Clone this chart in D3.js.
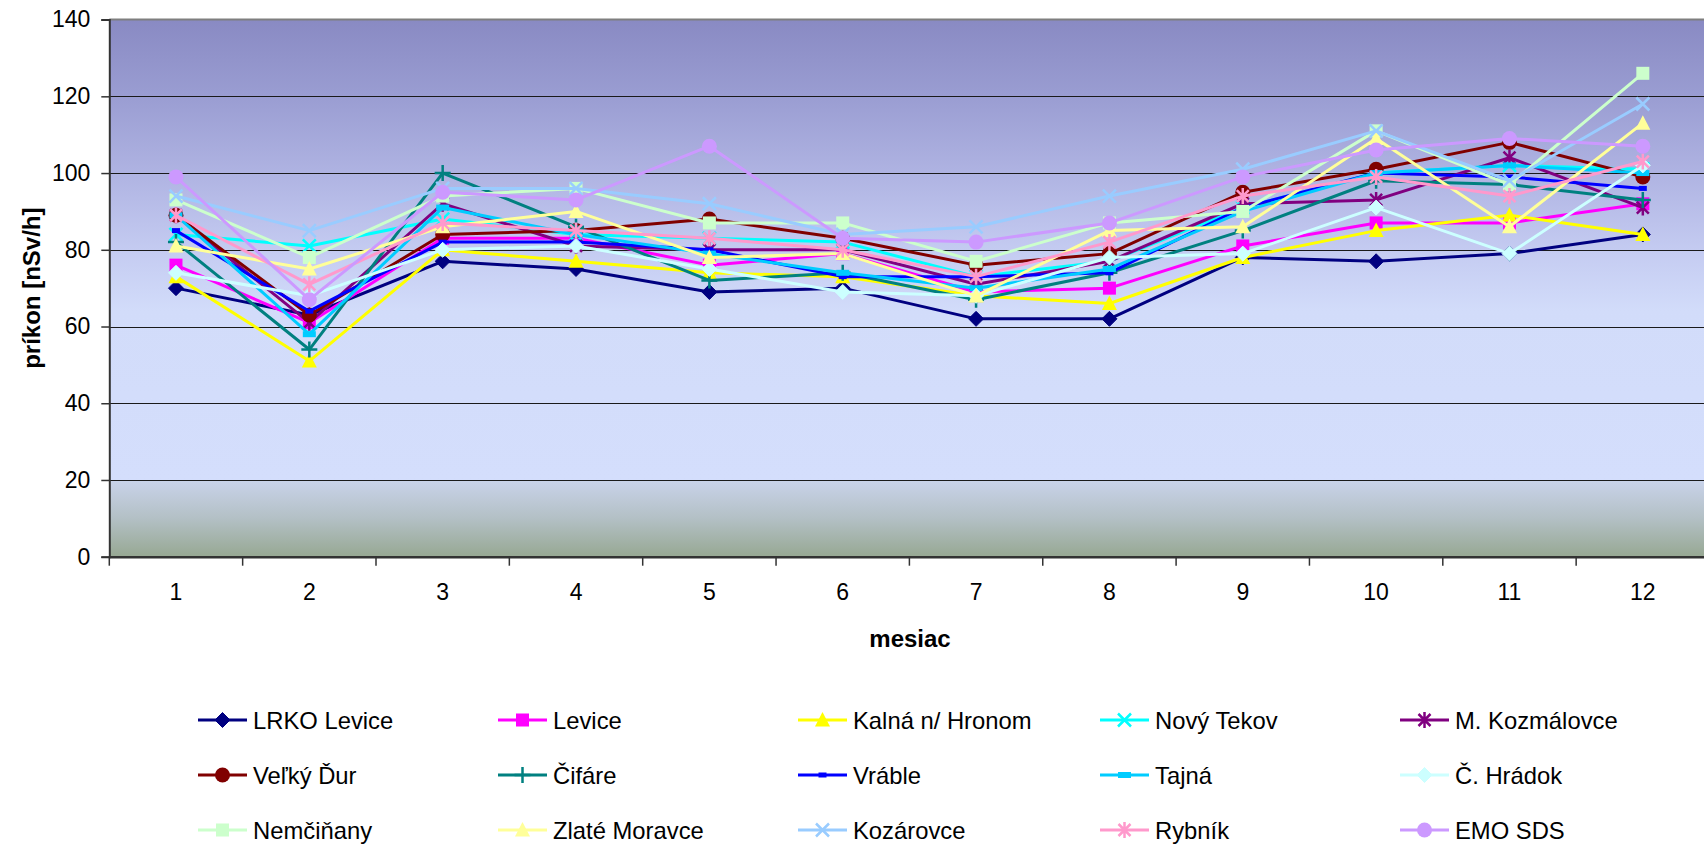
<!DOCTYPE html>
<html>
<head>
<meta charset="utf-8">
<script src="https://cdn.jsdelivr.net/npm/d3@7"></script>
<style>
  body { margin: 0; background: #fff; }
  text { font-family: "Liberation Sans", Arial, sans-serif; fill: #000; }
</style>
</head>
<body>
<svg id="chart" width="1704" height="844"></svg>
<script>
// Monthly dose-rate values per monitoring station [nSv/h]
const months = [1, 2, 3, 4, 5, 6, 7, 8, 9, 10, 11, 12];
const yTicks = [0, 20, 40, 60, 80, 100, 120, 140];

const lrkoLevice    = [70, 63, 77, 75, 69, 70, 62, 62, 78, 77, 79, 84];
const levice        = [76, 61, 83, 83, 76, 79, 69, 70, 81, 87, 87, 92];
const kalna         = [73, 51, 80, 77, 74, 73, 68, 66, 78, 85, 89, 84];
const novyTekov     = [84, 81, 88, 84, 83, 82, 73, 77, 91, 100, 102, 101];
const mKozmalovce   = [89, 61, 92, 81, 80, 80, 71, 77, 92, 93, 104, 91];
const velkyDur      = [89, 63, 84, 85, 88, 83, 76, 79, 95, 101, 108, 99];
const cifare        = [82, 54, 100, 86, 72, 74, 67, 74, 85, 98, 97, 93];
const vrable        = [85, 64, 82, 82, 80, 73, 73, 74, 91, 100, 99, 96];
const tajna         = [89, 58, 91, 84, 79, 74, 70, 75, 90, 100, 102, 100];
const cHradok       = [74, 68, 80, 81, 75, 69, 68, 78, 79, 91, 79, 102];
const nemcinany     = [93, 78, 94, 96, 87, 87, 77, 87, 90, 111, 97, 126];
const zlateMoravce  = [81, 75, 86, 90, 78, 79, 68, 85, 86, 109, 86, 113];
const kozarovce     = [94, 85, 96, 96, 92, 84, 86, 94, 101, 111, 98, 118];
const rybnik        = [89, 71, 87, 85, 83, 80, 73, 82, 94, 99, 94, 103];
const emoSds        = [99, 67, 95, 93, 107, 83, 82, 87, 99, 106, 109, 107];

const stationNames = ["LRKO Levice", "Levice", "Kalná n/ Hronom", "Nový Tekov", "M. Kozmálovce",
                      "Veľký Ďur", "Čifáre", "Vráble", "Tajná", "Č. Hrádok",
                      "Nemčiňany", "Zlaté Moravce", "Kozárovce", "Rybník", "EMO SDS"];
const stationValues = [lrkoLevice, levice, kalna, novyTekov, mKozmalovce,
                       velkyDur, cifare, vrable, tajna, cHradok,
                       nemcinany, zlateMoravce, kozarovce, rybnik, emoSds];
const stationColors = ["#000080", "#FF00FF", "#FFFF00", "#00FFFF", "#800080",
                       "#800000", "#008080", "#0000FF", "#00CCFF", "#CCFFFF",
                       "#CCFFCC", "#FFFF99", "#99CCFF", "#FF99CC", "#CC99FF"];
const stationMarkers = ["diamond", "square", "triangle", "x", "star",
                        "circle", "plus", "dashS", "dashL", "diamond",
                        "square", "triangle", "x", "star", "circle"];

const series = stationNames.map((name, i) => ({
  name, color: stationColors[i], marker: stationMarkers[i],
  values: months.map((m, j) => ({ m, v: stationValues[i][j] }))
}));

const svg = d3.select("#chart");
const plotLeft = 109.3, plotTop = 19.6, plotBottom = 556.7, band = 133.35;
const plotRight = plotLeft + band * months.length;

const x = d3.scaleBand().domain(months).range([plotLeft, plotRight]).paddingInner(0).paddingOuter(0);
const y = d3.scaleLinear().domain([0, 140]).range([plotBottom, plotTop]);

// Plot area background
const defs = svg.append("defs");
const grad = defs.append("linearGradient").attr("id", "plotBg")
  .attr("gradientUnits", "userSpaceOnUse")
  .attr("x1", 0).attr("x2", 0).attr("y1", plotTop).attr("y2", plotBottom);
const pct = v => ((y(v) - plotTop) / (plotBottom - plotTop) * 100) + "%";
[[140, "#898AC3"], [120, "#9A9DD2"], [100, "#AFB3E2"], [80, "#C4CBF1"], [64, "#D2DCFA"],
 [20.05, "#D4DEFC"], [19.95, "#C9D3EA"], [10, "#B3C0C5"], [0, "#97A893"]]
  .forEach(([v, c]) => grad.append("stop").attr("offset", pct(v)).attr("stop-color", c));

svg.append("rect")
  .attr("x", plotLeft).attr("y", plotTop)
  .attr("width", plotRight - plotLeft).attr("height", plotBottom - plotTop)
  .attr("fill", "url(#plotBg)");

// Horizontal gridlines
svg.append("g").selectAll("line").data(yTicks.filter(t => t > 0 && t < 140)).join("line")
  .attr("x1", plotLeft).attr("x2", plotRight)
  .attr("y1", d => Math.round(y(d)) + 0.5).attr("y2", d => Math.round(y(d)) + 0.5)
  .attr("stroke", "#1a1a1a").attr("stroke-width", 1);

// Top border
svg.append("line")
  .attr("x1", plotLeft).attr("x2", plotRight)
  .attr("y1", plotTop).attr("y2", plotTop)
  .attr("stroke", "#7f7f7f").attr("stroke-width", 2);

// Y axis
const yAxis = svg.append("g").attr("transform", `translate(${plotLeft},0)`)
  .call(d3.axisLeft(y).tickValues(yTicks).tickSize(8).tickPadding(11));
yAxis.select(".domain").attr("stroke", "#333").attr("stroke-width", 2);
yAxis.selectAll(".tick line").attr("stroke", "#333").attr("stroke-width", 1.5);
yAxis.selectAll("text").attr("font-size", 23).attr("fill", "#000");

// X axis: labels centred in each month, ticks on month boundaries
const xAxis = svg.append("g").attr("transform", `translate(0,${plotBottom})`)
  .call(d3.axisBottom(x).tickSize(0).tickPadding(27));
xAxis.select(".domain").attr("stroke", "#333").attr("stroke-width", 2.5);
xAxis.selectAll("text").attr("font-size", 23).attr("fill", "#000");
svg.append("g").selectAll("line")
  .data(months.map(m => x(m)).concat([plotRight]))
  .join("line")
  .attr("x1", d => d).attr("x2", d => d)
  .attr("y1", plotBottom).attr("y2", plotBottom + 9)
  .attr("stroke", "#333").attr("stroke-width", 1.5);

// Axis titles
svg.append("text")
  .attr("transform", `translate(31,${(plotTop + plotBottom) / 2}) rotate(-90)`)
  .attr("text-anchor", "middle").attr("dominant-baseline", "central")
  .attr("font-size", 24).attr("font-weight", "bold")
  .text("príkon [nSv/h]");
svg.append("text")
  .attr("x", 910).attr("y", 638)
  .attr("text-anchor", "middle").attr("dominant-baseline", "central")
  .attr("font-size", 24).attr("font-weight", "bold")
  .text("mesiac");

// Marker drawing
function drawMarker(g, type, color) {
  switch (type) {
    case "diamond":
      g.append("path").attr("d", "M0,-7.5L7.5,0L0,7.5L-7.5,0Z").attr("fill", color).attr("stroke", color).attr("stroke-width", 1);
      break;
    case "square":
      g.append("rect").attr("x", -6.5).attr("y", -6.5).attr("width", 13).attr("height", 13).attr("fill", color);
      break;
    case "triangle":
      g.append("path").attr("d", "M0,-8L7.5,6.5L-7.5,6.5Z").attr("fill", color);
      break;
    case "circle":
      g.append("circle").attr("r", 7.5).attr("fill", color);
      break;
    case "x":
      g.append("path").attr("d", "M-6.5,-6.5L6.5,6.5M-6.5,6.5L6.5,-6.5").attr("stroke", color).attr("stroke-width", 2.5).attr("fill", "none");
      break;
    case "star":
      g.append("path").attr("d", "M-6,-6L6,6M-6,6L6,-6M0,-8L0,8").attr("stroke", color).attr("stroke-width", 2.5).attr("fill", "none");
      break;
    case "plus":
      g.append("path").attr("d", "M-8,0L8,0M0,-8L0,8").attr("stroke", color).attr("stroke-width", 2.5).attr("fill", "none");
      break;
    case "dashS":
      g.append("rect").attr("x", -4).attr("y", -2.5).attr("width", 8).attr("height", 5).attr("fill", color);
      break;
    case "dashL":
      g.append("rect").attr("x", -6.5).attr("y", -3).attr("width", 13).attr("height", 6).attr("fill", color);
      break;
  }
}

const line = d3.line().x(d => x(d.m) + x.bandwidth() / 2).y(d => y(d.v));

const seriesG = svg.append("g");
series.forEach(s => {
  const g = seriesG.append("g");
  g.append("path").datum(s.values)
    .attr("d", line).attr("fill", "none")
    .attr("stroke", s.color).attr("stroke-width", 3).attr("stroke-linejoin", "round");
  s.values.forEach(d => {
    const mg = g.append("g").attr("transform", `translate(${x(d.m) + x.bandwidth() / 2},${y(d.v)})`);
    drawMarker(mg, s.marker, s.color);
  });
});

// Legend: 5 columns x 3 rows
const legendCols = [198, 498, 798, 1100, 1400];
const legendRows = [720, 775, 830];
const legend = svg.append("g");
series.forEach((s, i) => {
  const lx = legendCols[i % 5], ly = legendRows[Math.floor(i / 5)];
  const g = legend.append("g").attr("transform", `translate(${lx},${ly})`);
  g.append("line").attr("x1", 0).attr("x2", 49).attr("y1", 0).attr("y2", 0)
    .attr("stroke", s.color).attr("stroke-width", 3);
  drawMarker(g.append("g").attr("transform", "translate(24.5,0)"), s.marker, s.color);
  g.append("text").attr("x", 55).attr("y", 0)
    .attr("dominant-baseline", "central").attr("font-size", 23.8)
    .text(s.name);
});
</script>
</body>
</html>
